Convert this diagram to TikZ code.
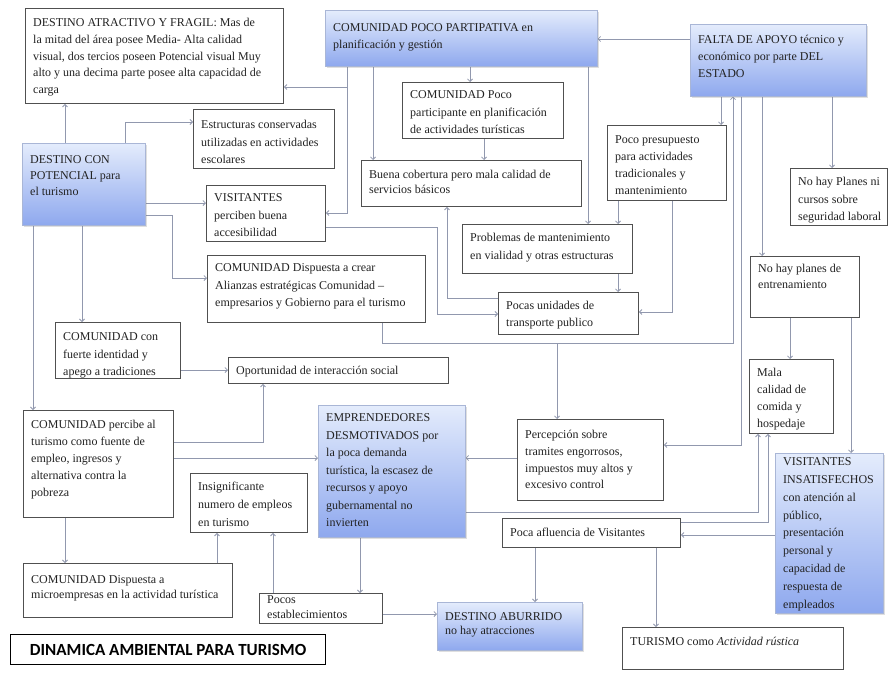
\documentclass[tikz,border=0pt]{standalone}
\usepackage{fontspec}
\setmainfont{Liberation Serif}
\newfontfamily\titlefont{Carlito}
\usetikzlibrary{arrows.meta,shadows,calc}
\pgfdeclarelayer{paper}
\pgfdeclarelayer{background}
\pgfsetlayers{paper,background,main}
\definecolor{boxgray}{HTML}{505050}
\definecolor{bluebd}{HTML}{A9B6D6}
\definecolor{bluetop}{HTML}{E4ECFC}
\definecolor{bluebot}{HTML}{8EA8EE}
\definecolor{linecol}{HTML}{9198AE}
\definecolor{txtcol}{HTML}{222222}
\tikzset{
 wbox/.style={draw=boxgray, line width=0.9pt, fill=white},
 bbox/.style={draw=bluebd, line width=0.6pt, top color=bluetop, bottom color=bluebot,
   drop shadow={shadow xshift=2pt,shadow yshift=-2pt,opacity=0.25}},
 txt/.style={inner sep=0pt, align=left, text=txtcol},
 arr/.style={draw=linecol, line width=0.8pt, -{Straight Barb[length=2.5pt,width=5pt]}},
}
\newcommand\mybox[9]{%
 \node[#2, anchor=north west, inner sep=0pt, minimum width={#5-#3}, minimum height={#6-#4}] (#1) at (#3,#4) {};
 \node[txt, anchor=north west, font=\fontsize{12}{#8}\selectfont] (#1t) at ({#3+8},{#7-5.5}) {\rule{0pt}{9pt}#9};
}
\begin{document}
\begin{tikzpicture}[x=1pt,y=-1pt]
\useasboundingbox (0,0) rectangle (888,672);
\begin{pgfonlayer}{paper}
\fill[white] (0,0) rectangle (888,672);
\end{pgfonlayer}

\mybox{A}{wbox}{25}{8}{283}{103}{23}{16.7}{DESTINO ATRACTIVO Y FRAGIL: Mas de\\la mitad del área posee Media- Alta calidad\\visual, dos tercios poseen Potencial visual Muy\\alto y una decima parte posee alta capacidad de\\carga}
\mybox{B}{bbox}{325}{10}{597}{66}{28}{17}{COMUNIDAD POCO PARTIPATIVA en\\planificación y gestión}
\mybox{C}{bbox}{690}{24}{866}{96}{40}{17}{FALTA DE APOYO técnico y\\económico por parte DEL\\ESTADO}
\mybox{D}{bbox}{22}{143}{145}{225}{160}{16}{DESTINO CON\\POTENCIAL para\\el turismo}
\mybox{E}{wbox}{193}{109}{334}{168}{125}{17.5}{Estructuras conservadas\\utilizadas en actividades\\escolares}
\mybox{F}{wbox}{402}{82}{563}{138}{95}{17.5}{COMUNIDAD Poco\\participante en planificación\\de actividades turísticas}
\mybox{G}{wbox}{361}{160}{581}{206}{175}{15}{Buena cobertura pero mala calidad de\\servicios básicos}
\mybox{H}{wbox}{607}{125}{726}{200}{140}{17}{Poco presupuesto\\para actividades\\tradicionales y\\mantenimiento}
\mybox{I}{wbox}{790}{168}{887}{225}{182}{17.5}{No hay Planes ni\\cursos sobre\\seguridad laboral}
\mybox{J}{wbox}{206}{185}{325}{241}{198}{17.5}{VISITANTES\\perciben buena\\accesibilidad}
\mybox{K}{wbox}{462}{224}{632}{273}{238}{18}{Problemas de mantenimiento\\en vialidad y otras estructuras}
\mybox{L}{wbox}{750}{256}{859}{317}{269}{16}{No hay planes de\\entrenamiento}
\mybox{M}{wbox}{207}{255}{425}{322}{268}{17.5}{COMUNIDAD Dispuesta a crear\\Alianzas estratégicas Comunidad --\\empresarios y Gobierno para el turismo}
\mybox{N}{wbox}{498}{292}{638}{334}{306}{17}{Pocas unidades de\\transporte publico}
\mybox{O}{wbox}{55}{322}{180}{378}{337}{17.5}{COMUNIDAD con\\fuerte identidad y\\apego a tradiciones}
\mybox{P}{wbox}{228}{357}{448}{383}{371}{17}{Oportunidad de interacción social}
\mybox{Q}{wbox}{749}{359}{833}{433}{373}{17}{Mala\\calidad de\\comida y\\hospedaje}
\mybox{R}{wbox}{23}{410}{173}{517}{425}{17}{COMUNIDAD percibe al\\turismo como fuente de\\empleo, ingresos y\\alternativa contra la\\pobreza}
\mybox{S}{bbox}{318}{405}{465}{537}{418}{17.5}{EMPRENDEDORES\\DESMOTIVADOS por\\la poca demanda\\turística, la escasez de\\recursos y apoyo\\gubernamental no\\invierten}
\mybox{T}{wbox}{517}{419}{663}{500}{435}{16.7}{Percepción sobre\\tramites engorrosos,\\impuestos muy altos y\\excesivo control}
\mybox{U}{wbox}{190}{473}{307}{532}{487}{18}{Insignificante\\numero de empleos\\en turismo}
\mybox{V}{bbox}{775}{453}{883}{613}{462}{17.8}{VISITANTES\\INSATISFECHOS\\con atención al\\público,\\presentación\\personal y\\capacidad de\\respuesta de\\empleados}
\mybox{W}{wbox}{502}{518}{680}{547}{533}{17}{Poca afluencia de Visitantes}
\mybox{X}{wbox}{23}{563}{232}{617}{580}{15}{COMUNIDAD Dispuesta a\\microempresas en la actividad turística}
\mybox{Y}{wbox}{259}{593}{382}{623}{600}{15}{Pocos\\establecimientos}
\mybox{Z}{bbox}{437}{602}{582}{650}{617}{14}{DESTINO ABURRIDO\\no hay atracciones}
\mybox{AA}{wbox}{622}{627}{843}{669}{642}{17}{TURISMO como \textit{Actividad rústica}}

\node[draw=black, line width=1.2pt, fill=white, anchor=north west, inner sep=0pt,
  minimum width=315, minimum height=30,
  font=\titlefont\bfseries\fontsize{17}{20}\selectfont] (title) at (10,634) {DINAMICA AMBIENTAL PARA TURISMO};

\begin{pgfonlayer}{background}
\coordinate (bA) at (347,87);
\coordinate (mT) at (557,343);
\draw[arr] (C.west |- 0,39) -- (B.east |- 0,39);
\draw[arr] (D.north -| 65,0) -- (A.south -| 65,0);
\draw[arr] (D.north -| 125,0) -- (125,122) -- (E.west |- 0,122);
\draw[arr] (D.east |- 0,203) -- (J.west |- 0,203);
\draw[arr] (D.east |- 0,215) -- (172,215) -- (172,278) -- (M.west |- 0,278);
\draw[arr] (D.south -| 82,0) -- (O.north -| 82,0);
\draw[arr] (D.south -| 33,0) -- (R.north -| 33,0);
\draw[arr] (B.south -| 347,0) -- (347,213) -- (J.east |- 0,213);
\draw[arr] (bA) -- (A.east |- 0,87);
\draw[arr] (B.south -| 470,0) -- (F.north -| 470,0);
\draw[arr] (B.south -| 373,0) -- (G.north -| 373,0);
\draw[arr] (B.south -| 588,0) -- (K.north -| 588,0);
\draw[arr] (F.south -| 484,0) -- (G.north -| 484,0);
\draw[arr] (C.south -| 721,0) -- (H.north -| 721,0);
\draw[arr] (M.south -| 382,0) -- (382,343) -- (733,343) -- (C.south -| 733,0);
\draw[arr] (mT) -- (T.north -| 557,0);
\draw[arr] (C.south -| 741,0) -- (741,445) -- (T.east |- 0,445);
\draw[arr] (C.south -| 762,0) -- (L.north -| 762,0);
\draw[arr] (C.south -| 832,0) -- (I.north -| 832,0);
\draw[arr] (H.south -| 618,0) -- (K.north -| 618,0);
\draw[arr] (K.south -| 618,0) -- (N.north -| 618,0);
\draw[arr] (H.south -| 672,0) -- (672,312) -- (N.east |- 0,312);
\draw[arr] (N.west |- 0,298) -- (447,298) -- (G.south -| 447,0);
\draw[arr] (J.east |- 0,227) -- (437,227) -- (437,314) -- (N.west |- 0,314);
\draw[arr] (L.south -| 790,0) -- (Q.north -| 790,0);
\draw[arr] (L.south -| 851,0) -- (V.north -| 851,0);
\draw[arr] (V.west |- 0,535) -- (W.east |- 0,535);
\draw[arr] (W.east |- 0,522) -- (768,522) -- (Q.south -| 768,0);
\draw[arr] (S.east |- 0,512) -- (758,512) -- (Q.south -| 758,0);
\draw[arr] (T.west |- 0,458) -- (S.east |- 0,458);
\draw[arr] (R.east |- 0,458) -- (S.west |- 0,458);
\draw[arr] (R.east |- 0,442) -- (263,442) -- (P.south -| 263,0);
\draw[arr] (O.east |- 0,370) -- (P.west |- 0,370);
\draw[arr] (R.south -| 65,0) -- (X.north -| 65,0);
\draw[arr] (X.north -| 217,0) -- (U.south -| 217,0);
\draw[arr] (Y.north -| 273,0) -- (U.south -| 273,0);
\draw[arr] (S.south -| 360,0) -- (Y.north -| 360,0);
\draw[arr] (Y.east |- 0,614) -- (Z.west |- 0,614);
\draw[arr] (W.south -| 535,0) -- (Z.north -| 535,0);
\draw[arr] (W.south -| 656,0) -- (AA.north -| 656,0);
\end{pgfonlayer}
\end{tikzpicture}
\end{document}
